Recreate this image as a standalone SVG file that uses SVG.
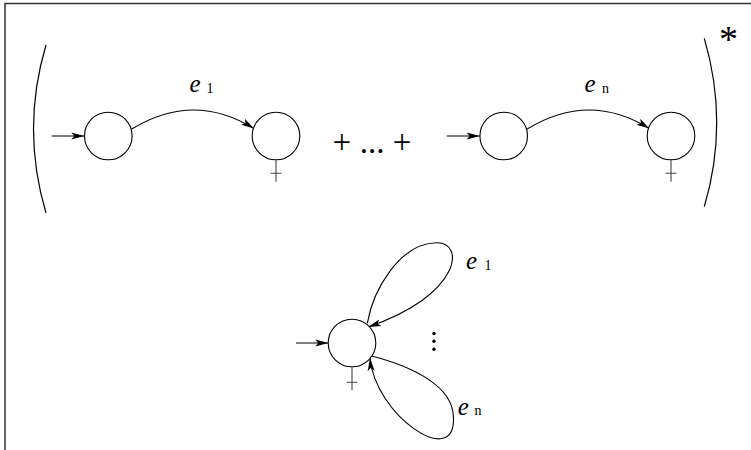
<svg xmlns="http://www.w3.org/2000/svg" width="751" height="450" viewBox="0 0 751 450">
  <style>
    .frame { stroke: #333; stroke-width: 1.5; fill: none; }
    .node { fill: #fff; stroke: #000; stroke-width: 1.1; }
    .fin { stroke: #444; stroke-width: 1.1; fill: none; }
    .edge { stroke: #000; stroke-width: 1.1; fill: none; }
    .paren { stroke: #000; stroke-width: 1.2; fill: none; }
    .lbl { font-family: "Liberation Serif", "Times New Roman", serif; font-style: italic; font-size: 25px; fill: #000; }
    .sub { font-family: "Liberation Serif", "Times New Roman", serif; font-size: 14px; fill: #000; }
    .op { font-family: "Liberation Serif", "Times New Roman", serif; font-size: 33px; fill: #000; }
    .star { font-family: "Liberation Serif", "Times New Roman", serif; font-size: 38px; fill: #000; }
  </style>
  <defs>
    <marker id="ah" markerUnits="userSpaceOnUse" markerWidth="14" markerHeight="8" refX="13" refY="3.5" orient="auto" overflow="visible">
      <path d="M0,0 L13,3.5 L0,7 L3,3.5 Z" fill="#000"/>
    </marker>
  </defs>
  <rect width="751" height="450" fill="#fff"/>
  <path class="frame" d="M5,450 L5,3.5 L751,3.5"/>

  <g id="parens">
    <path class="paren" d="M46,45 Q21,129 46,213"/>
    <path class="paren" d="M704.3,38.3 Q729.1,122.5 704.3,206.7"/>
    <text class="star" x="728.5" y="52" text-anchor="middle">*</text>
  </g>

  <g id="connectors">
    <path class="edge" d="M51.7,136 L84.3,136" marker-end="url(#ah)"/>
    <path class="edge" d="M131.3,129.3 Q193.6,91 254,128.6" marker-end="url(#ah)"/>
    <path class="edge" d="M446.7,136 L479.7,136" marker-end="url(#ah)"/>
    <path class="edge" d="M526.7,129.3 Q589,91 649.4,128.6" marker-end="url(#ah)"/>
    <path class="edge" d="M296,343 L328.3,343" marker-end="url(#ah)"/>
    <path class="edge" d="M367.3,323.3 C373,290 400,243 436.7,242.7 C465,242 462,295 368,327" marker-end="url(#ah)"/>
    <path class="edge" d="M371.7,356 C410,366 453.5,385 453.5,418 C455,470 375,415 370,358" marker-end="url(#ah)"/>
  </g>

  <g id="s1">
    <circle class="node" cx="108.3" cy="136" r="23.8"/>
  </g>
  <g id="f1">
    <circle class="node" cx="276" cy="136" r="23.8"/>
    <path class="fin" d="M276,159.8 V181.7 M270.5,173.3 H281.5"/>
  </g>
  <g id="s2">
    <circle class="node" cx="503.7" cy="136" r="23.8"/>
  </g>
  <g id="f2">
    <circle class="node" cx="671" cy="136" r="23.8"/>
    <path class="fin" d="M671,159.8 V181.7 M665.5,173.3 H676.5"/>
  </g>
  <g id="loopnode">
    <circle class="node" cx="352" cy="343" r="23.8"/>
    <path class="fin" d="M352,366.8 V390 M346.5,382.3 H357.5"/>
  </g>

  <g id="labels">
    <text class="lbl" x="189.5" y="92">e</text><text class="sub" x="206.5" y="92.5">1</text>
    <text class="lbl" x="584.5" y="92">e</text><text class="sub" x="602" y="92.5">n</text>
    <text class="op" x="341.8" y="153" text-anchor="middle">+</text>
    <text class="op" x="372" y="153" text-anchor="middle">...</text>
    <text class="op" x="402" y="153" text-anchor="middle">+</text>
    <text class="lbl" x="466" y="268.5">e</text><text class="sub" x="484.5" y="269.5">1</text>
    <text class="lbl" x="457.8" y="415">e</text><text class="sub" x="474.5" y="415">n</text>
  </g>
  <g id="vdots" fill="#000">
    <circle cx="434" cy="333.5" r="1.7"/>
    <circle cx="434" cy="341.3" r="1.7"/>
    <circle cx="434" cy="349.3" r="1.7"/>
  </g>
</svg>
